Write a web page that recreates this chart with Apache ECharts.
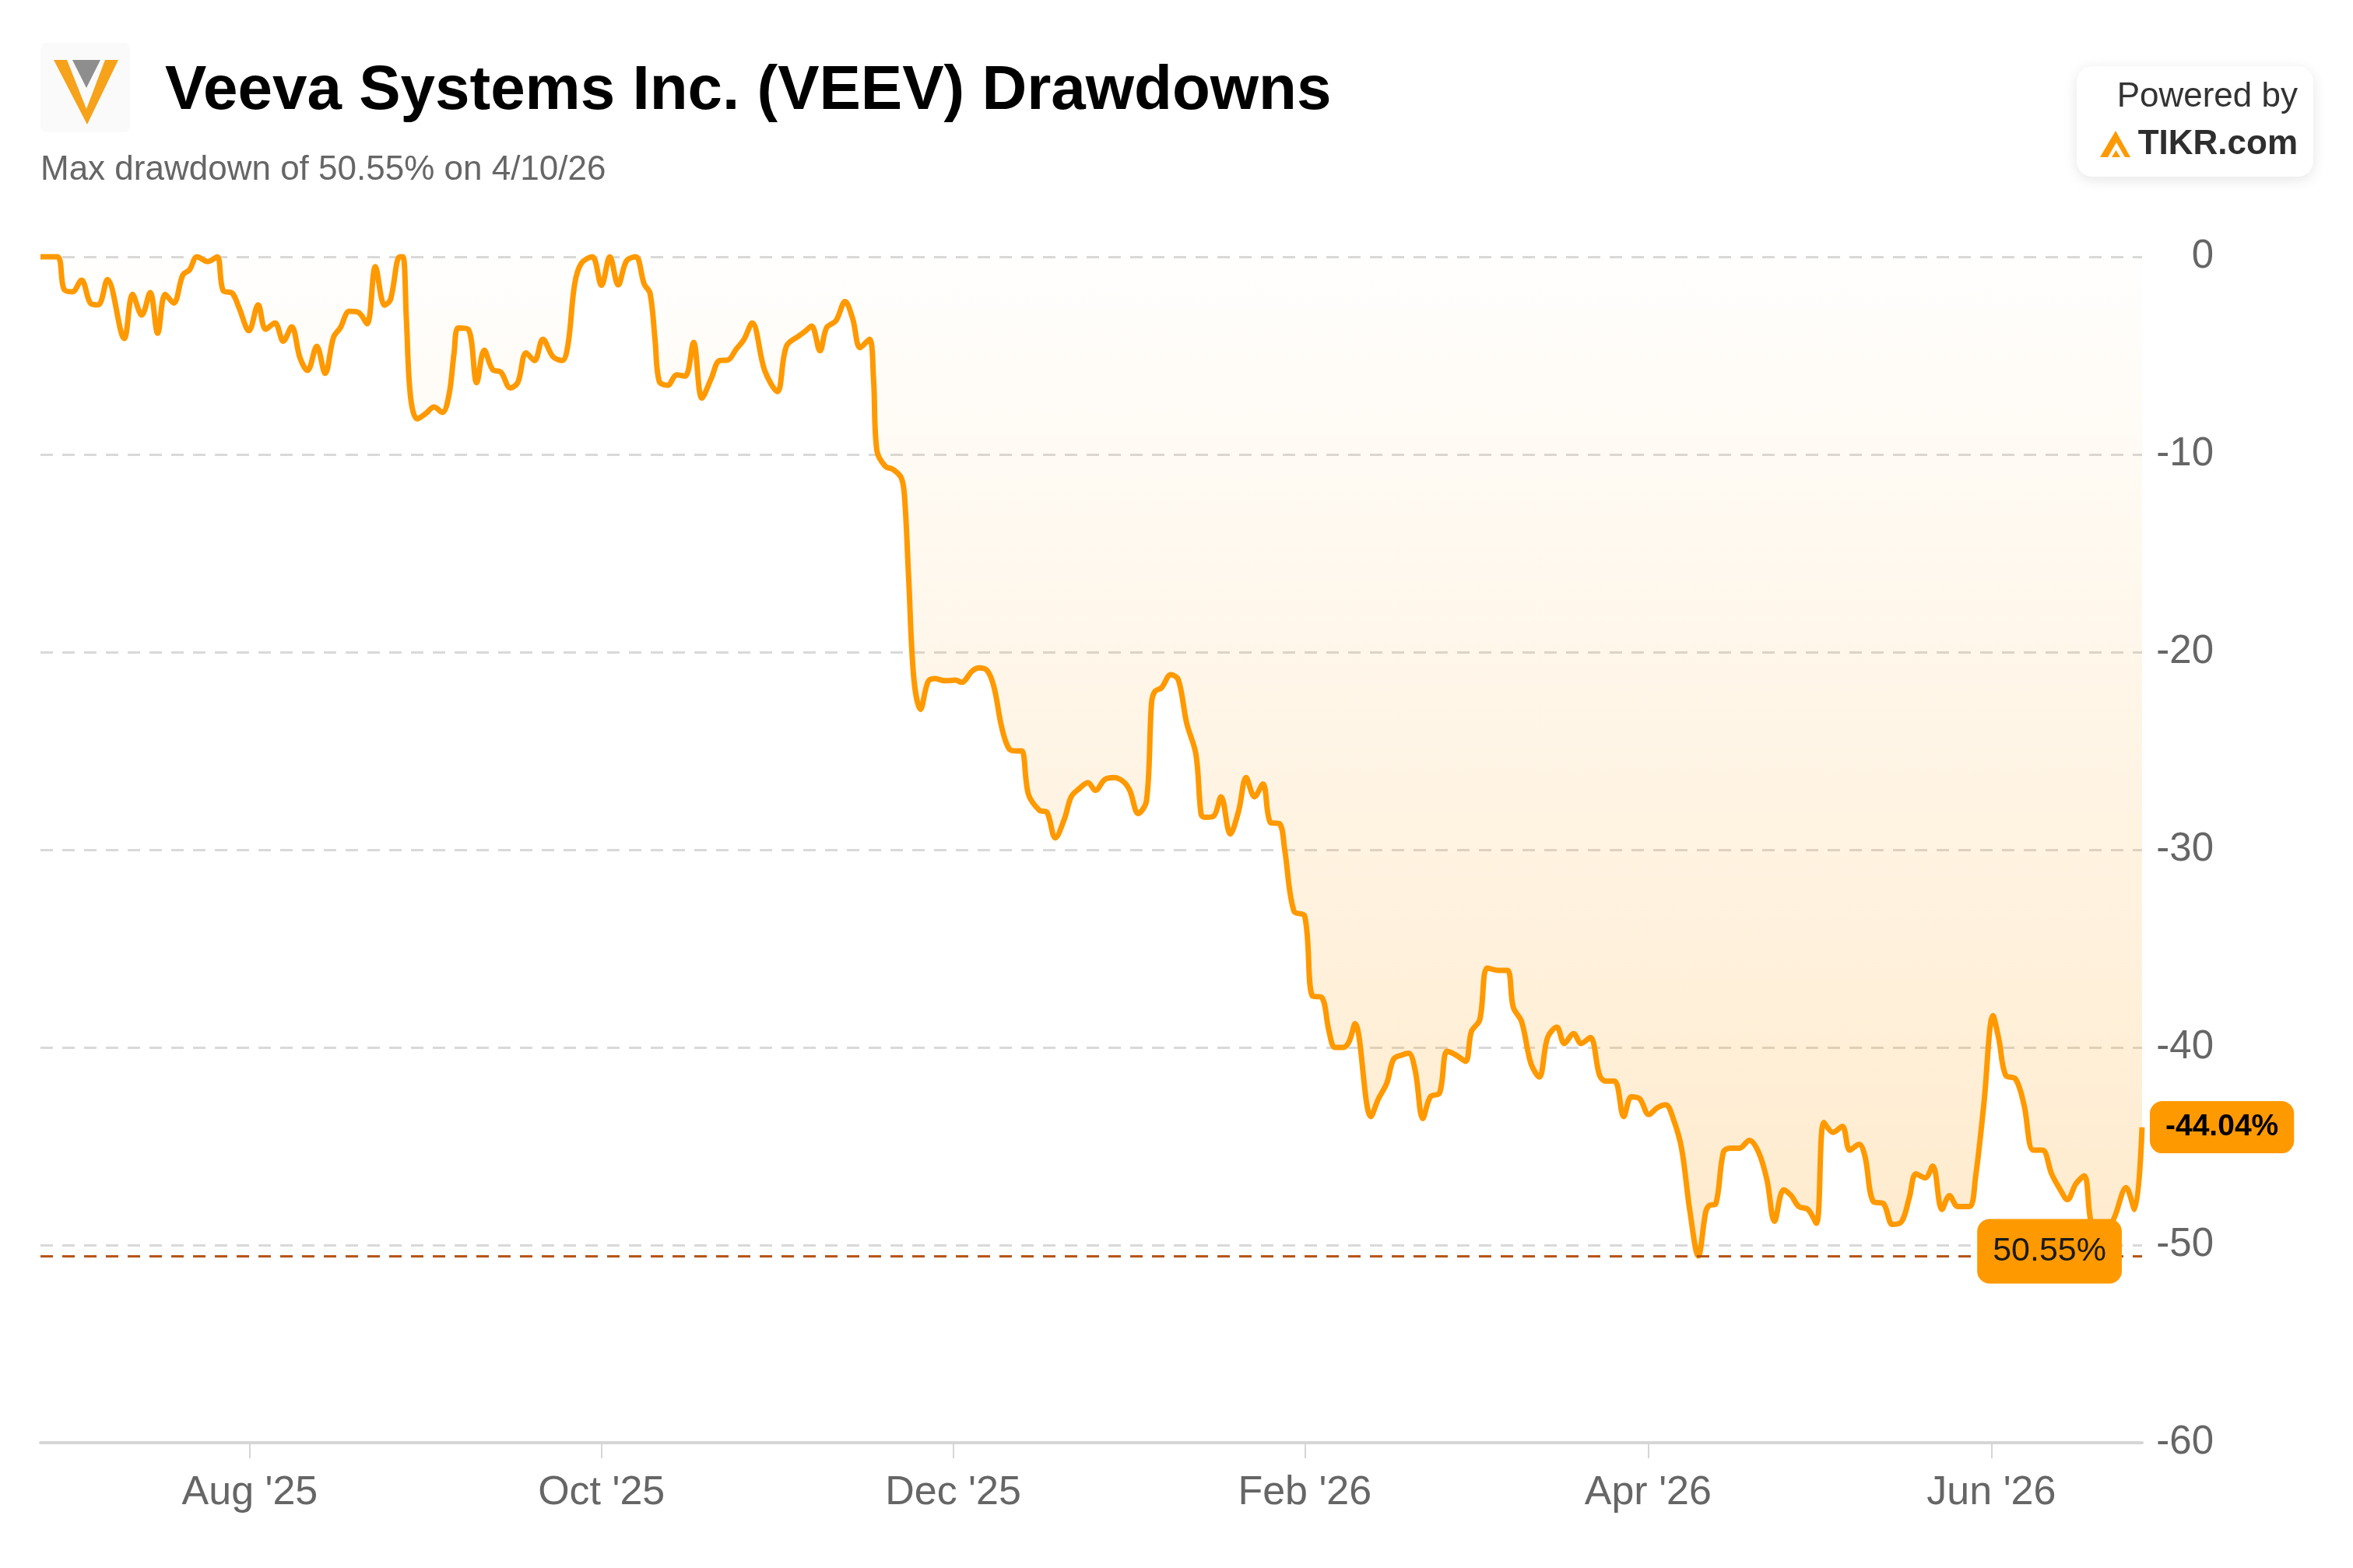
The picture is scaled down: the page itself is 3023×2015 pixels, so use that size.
<!DOCTYPE html>
<html>
<head>
<meta charset="utf-8">
<title>VEEV Drawdowns</title>
<script src="https://cdn.jsdelivr.net/npm/echarts@6/dist/echarts.min.js"></script>
<style>
  html, body { margin: 0; padding: 0; background: #fff; }
  #chart { width: 3023px; height: 2015px; }
</style>
</head>
<body>
<div id="chart"></div>
<script>
// trading-day index (0 = 2025-06-26) of each reading
const dayIdx = [
  0, 2, 2.8, 3.8, 4.9, 6.0, 6.9, 8.0, 10.0, 11.0, 12.1, 13.1, 14.0, 14.9, 15.9, 17.0, 17.8, 18.7, 20.0, 21.1,
  21.8, 22.9, 23.7, 24.9, 26.0, 26.9, 28.0, 29.0, 30.0, 31.0, 31.9, 33.0, 34.0, 35.0, 35.8, 36.9, 38.0, 39.0, 40.0, 41.1,
  41.8, 42.9, 43.3, 43.7, 44.2, 45.0, 46.0, 47.0, 48.0, 48.8, 49.4, 49.9, 51.1, 52.1, 53.0, 54.0, 55.0, 56.1, 57.0, 58.0,
  59.0, 60.0, 61.2, 62.3, 63.0, 63.8, 64.6, 65.9, 67.0, 68.0, 69.0, 70.0, 71.1, 72.1, 72.8, 73.4, 73.9, 74.9, 76.0, 77.0,
  78.0, 79.0, 80.1, 81.1, 82.1, 83.1, 84.0, 85.0, 86.5, 88.0, 89.1, 90.7, 91.4, 92.1, 93.1, 93.9, 95.0, 96.1, 97.0, 97.9,
  99.0, 99.5, 99.9, 100.9, 101.8, 102.8, 103.2, 103.7, 104.3, 105.1, 106.0, 106.8, 108.0, 109.3, 110.0, 111.3, 112.1, 113.1, 113.9, 114.8,
  115.7, 116.6, 117.2, 118.0, 119.3, 120.2, 121.2, 122.3, 123.1, 124.0, 125.1, 126.0, 127.1, 128.2, 129.3, 130.1, 131.1, 132.1, 132.7, 133.1,
  133.9, 135.0, 135.9, 136.9, 138.0, 138.6, 139.0, 140.1, 141.0, 142.1, 143.1, 144.0, 145.0, 146.0, 146.9, 148.0, 148.6, 149.7, 151.0, 151.9,
  153.0, 153.9, 154.6, 155.6, 156.3, 157.0, 158.9, 159.8, 160.8, 161.6, 162.6, 163.4, 164.2, 165.1, 166.0, 167.1, 168.0, 169.1, 170.2, 170.9,
  171.9, 172.8, 174.1, 175.2, 175.9, 176.9, 178.0, 179.0, 180.0, 181.1, 182.0, 183.1, 184.0, 185.1, 186.2, 186.9, 188.0, 189.1, 190.0, 191.0,
  192.1, 193.1, 194.1, 195.0, 196.0, 197.0, 198.0, 198.9, 199.3, 200.1, 201.0, 201.8, 202.9, 204.1, 205.2, 206.2, 207.1, 208.2, 209.1, 210.0,
  211.1, 212.1, 213.0, 214.1, 215.2, 216.1, 217.2, 217.9, 218.9, 220.1, 221.2, 222.3, 223.2, 224.0, 225.1, 226.0, 227.1, 228.0, 229.0, 230.4,
  231.1, 232.1, 233.2, 233.9, 234.7, 235.9, 236.9, 238.0, 239.1, 240.2, 241.1, 242.1, 243.1, 244.1, 244.8, 245.6, 246.5, 247.7, 249.1, 250.1,
  251.0
]

// drawdown from running peak, %
const drawdown = [
  0, 0, -1.64, -1.77, -1.18, -2.36, -2.43, -1.15, -4.13, -1.9, -2.95, -1.81, -3.87, -1.9, -2.34, -0.92, -0.66, 0, -0.24, 0,
  -1.7, -1.84, -2.56, -3.74, -2.43, -3.67, -3.35, -4.27, -3.54, -5.12, -5.75, -4.53, -5.9, -4.07, -3.6, -2.76, -2.82, -3.39, -0.5, -2.45,
  -2.17, 0, 0, -3.15, -7.1, -8.2, -7.94, -7.6, -7.87, -6.96, -4.86, -3.6, -3.67, -6.37, -4.72, -5.7, -5.84, -6.63, -6.37, -4.86,
  -5.25, -4.17, -5.05, -5.25, -4.46, -1.38, -0.33, 0, -1.44, 0, -1.42, -0.2, 0, -1.38, -1.84, -4.2, -6.3, -6.5, -5.97, -6.04,
  -4.33, -7.15, -6.17, -5.25, -5.22, -4.67, -4.2, -3.35, -5.76, -6.82, -4.52, -3.97, -3.74, -3.5, -4.75, -3.58, -3.24, -2.26, -3.12, -4.6,
  -4.17, -6.23, -9.81, -10.6, -10.75, -11.18, -12.15, -16.35, -21.3, -22.9, -21.5, -21.34, -21.45, -21.42, -21.53, -20.95, -20.8, -20.95, -21.8, -23.8,
  -24.9, -25.0, -25.0, -27.2, -28.0, -28.1, -29.4, -28.43, -27.32, -26.93, -26.6, -27.0, -26.45, -26.35, -26.54, -27.0, -28.17, -27.52, -22.57, -21.99,
  -21.8, -21.14, -21.4, -23.6, -25.17, -28.17, -28.36, -28.3, -27.32, -29.2, -28.04, -26.35, -27.32, -26.67, -28.62, -28.69, -29.99, -33.1, -33.37, -37.4,
  -37.46, -39.2, -40.0, -40.0, -39.7, -38.8, -43.5, -42.6, -41.8, -40.6, -40.38, -40.3, -41.2, -43.6, -42.5, -42.3, -40.2, -40.4, -40.7, -39.2,
  -38.6, -35.98, -36.1, -36.1, -37.97, -38.7, -40.8, -41.5, -39.5, -38.98, -39.8, -39.3, -39.8, -39.5, -41.4, -41.7, -41.7, -43.5, -42.5, -42.6,
  -43.4, -43.05, -42.9, -43.6, -45.1, -48.3, -50.55, -48.3, -48.0, -47.9, -45.3, -45.1, -45.1, -44.7, -45.3, -46.7, -48.8, -47.2, -47.5, -48.05,
  -48.2, -48.9, -43.8, -44.3, -44.0, -45.2, -44.9, -45.5, -47.8, -47.9, -48.96, -48.8, -47.6, -46.4, -46.6, -46.0, -48.2, -47.5, -48.05, -48.05,
  -46.6, -42.9, -38.4, -39.6, -41.4, -41.6, -42.9, -45.2, -45.2, -46.4, -47.1, -47.7, -46.9, -46.5, -48.6, -49.9, -49.6, -48.6, -47.1, -48.2,
  -44.04
]

// first trading day of every second month
const tickIdx = [25, 67, 109, 151, 192, 233]
const tickLabels = ["Aug '25", "Oct '25", "Dec '25", "Feb '26", "Apr '26", "Jun '26"]

const FONT = '"Liberation Sans", Arial, sans-serif'
const ORANGE = '#ff9900'

const chart = echarts.init(document.getElementById('chart'))

const seriesData = dayIdx.map((d, i) => [d, drawdown[i]])
const maxDrawdown = Math.min(...drawdown)

const option = {
  backgroundColor: '#fff',
  animation: false,
  textStyle: { fontFamily: FONT },
  title: [
    {
      text: 'Veeva Systems Inc. (VEEV) Drawdowns',
      left: 212,
      top: 78,
      padding: 0,
      textStyle: { fontSize: 80, fontWeight: 'bold', color: '#000', fontFamily: FONT }
    },
    {
      text: 'Max drawdown of ' + Math.abs(maxDrawdown).toFixed(2) + '% on 4/10/26',
      left: 52,
      top: 197,
      padding: 0,
      textStyle: { fontSize: 44, fontWeight: 'normal', color: '#666', fontFamily: FONT }
    }
  ],
  graphic: [
    // veeva logo
    { type: 'rect', shape: { x: 52, y: 55, width: 115, height: 115, r: 8 }, style: { fill: '#fafafa' } },
    { type: 'polygon', shape: { points: [[69, 77], [152, 77], [112, 160]] }, style: { fill: '#f7a21b' } },
    { type: 'polygon', shape: { points: [[86, 77], [135, 77], [111, 140]] }, style: { fill: '#fafafa' } },
    { type: 'polygon', shape: { points: [[93, 77], [129, 77], [111, 113]] }, style: { fill: '#8e8e8e' } },
    // powered by box
    {
      type: 'rect',
      shape: { x: 2668, y: 85, width: 304, height: 142, r: 20 },
      style: { fill: '#fff', shadowBlur: 18, shadowColor: 'rgba(0,0,0,0.10)', shadowOffsetY: 4 }
    },
    {
      type: 'text', x: 2952, y: 125,
      style: { text: 'Powered by', fontSize: 44, fontFamily: FONT, fill: '#333', align: 'right', verticalAlign: 'middle' }
    },
    {
      type: 'text', x: 2952, y: 186,
      style: { text: 'TIKR.com', fontSize: 44, fontWeight: 'bold', fontFamily: FONT, fill: '#2e2e2e', align: 'right', verticalAlign: 'middle' }
    },
    { type: 'polygon', shape: { points: [[2698, 202], [2718, 168], [2737, 202]] }, style: { fill: ORANGE } },
    { type: 'polygon', shape: { points: [[2708, 202], [2719, 183], [2730, 202]] }, style: { fill: '#fff' } },
    { type: 'polygon', shape: { points: [[2713, 202], [2718.5, 193], [2724, 202]] }, style: { fill: ORANGE } }
  ],
  grid: {
    left: 52,
    right: 271,
    top: 330,
    bottom: 161
  },
  xAxis: {
    type: 'value',
    min: 0,
    max: dayIdx[dayIdx.length - 1],
    axisLine: { show: true, onZero: false, lineStyle: { color: '#d6d6d6', width: 4 } },
    axisTick: {
      show: true,
      customValues: tickIdx,
      length: 20,
      lineStyle: { color: '#d6d6d6', width: 2 }
    },
    axisLabel: {
      customValues: tickIdx,
      formatter: v => tickLabels[tickIdx.indexOf(v)] || '',
      fontSize: 52,
      color: '#666',
      margin: 39,
      fontFamily: FONT
    },
    splitLine: { show: false }
  },
  yAxis: {
    type: 'value',
    position: 'right',
    min: -60,
    max: 0,
    interval: 10,
    axisLine: { show: false },
    axisTick: { show: false },
    axisLabel: {
      fontSize: 51,
      color: '#666',
      align: 'right',
      margin: 92,
      padding: [9, 0, 0, 0],
      fontFamily: FONT
    },
    splitLine: {
      show: true,
      lineStyle: { color: '#d9d9d9', width: 3, type: [16, 12] }
    }
  },
  series: [
    {
      name: 'Drawdown',
      type: 'line',
      data: seriesData,
      showSymbol: false,
      smooth: 0.35,
      clip: false,
      lineStyle: { color: ORANGE, width: 7 },
      itemStyle: { color: ORANGE },
      areaStyle: {
        origin: 'end',
        color: new echarts.graphic.LinearGradient(0, 0, 0, 1, [
          { offset: 0, color: 'rgba(255,153,0,0.01)' },
          { offset: 1, color: 'rgba(255,153,0,0.28)' }
        ])
      },
      endLabel: {
        show: true,
        formatter: p => p.value[1].toFixed(2) + '%',
        backgroundColor: ORANGE,
        color: '#000',
        fontWeight: 'bold',
        fontSize: 39,
        fontFamily: FONT,
        padding: [14, 20],
        borderRadius: 16,
        distance: 10
      },
      markLine: {
        silent: true,
        symbol: 'none',
        lineStyle: { color: '#b5561a', width: 3, type: [16, 12] },
        label: {
          show: true,
          position: 'insideEnd',
          distance: [26, 0],
          offset: [0, -6],
          formatter: () => Math.abs(maxDrawdown).toFixed(2) + '%',
          backgroundColor: ORANGE,
          color: '#1a1a1a',
          fontSize: 43,
          fontFamily: FONT,
          padding: [20, 20],
          borderRadius: 16
        },
        data: [{ yAxis: maxDrawdown }]
      }
    }
  ]
}

chart.setOption(option)
</script>
</body>
</html>
